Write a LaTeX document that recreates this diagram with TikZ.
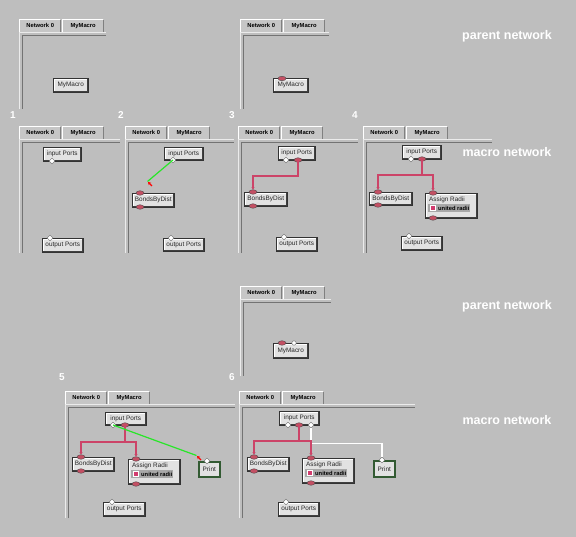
\documentclass[tikz,border=0pt]{standalone}
\usepackage{fontspec}
\setmainfont{Liberation Sans}
\usetikzlibrary{shapes.geometric,arrows.meta}
\definecolor{bg}{RGB}{190,190,190}
\definecolor{tabfill}{RGB}{198,198,198}
\definecolor{nodefill}{RGB}{226,226,226}
\definecolor{wirered}{RGB}{204,68,104}
\definecolor{portred}{RGB}{196,80,100}
\definecolor{wiregreen}{RGB}{40,230,40}
\definecolor{printgreen}{RGB}{50,90,50}
\definecolor{widgetgray}{RGB}{168,168,168}
\definecolor{checkpink}{RGB}{210,60,110}
\tikzset{
  uinode/.style={rectangle, draw=black!80, line width=0.5pt, fill=nodefill, inner sep=0pt,
    anchor=north west, text=black!85, font=\fontsize{6.4}{7}\selectfont,
    path picture={
      \draw[white, line width=1pt] ([shift={(1pt,1.5pt)}]path picture bounding box.south west) |- ([shift={(-1.5pt,-1pt)}]path picture bounding box.north east);
      \draw[black!75, line width=1.6pt] ([shift={(1pt,0pt)}]path picture bounding box.south west) -| ([shift={(0pt,-1pt)}]path picture bounding box.north east);
    }},
  printnode/.style={uinode, draw=printgreen, line width=1.6pt},
  tabbox/.style={rectangle, fill=tabfill, inner sep=0pt, anchor=north west,
    minimum width=42pt, minimum height=13pt, text=black,
    font=\bfseries\fontsize{5.8}{7}\selectfont,
    path picture={
      \draw[white, line width=1pt] ([shift={(0.5pt,0pt)}]path picture bounding box.south west) |- ([shift={(-1pt,-0.5pt)}]path picture bounding box.north east);
      \draw[black!50, line width=1pt] ([shift={(-0.5pt,-1pt)}]path picture bounding box.north east) -- ([shift={(-0.5pt,0pt)}]path picture bounding box.south east);
    }},
  framelight/.style={draw=white!92!black, line width=1pt},
  framedark/.style={draw=black!55, line width=0.8pt},
  oval/.style={ellipse, minimum width=8pt, minimum height=4.5pt, inner sep=0pt, fill=portred, draw=black!70, line width=0.4pt},
  pdiamond/.style={diamond, minimum width=6pt, minimum height=6pt, inner sep=0pt, fill=white, draw=black!60, line width=0.4pt},
  pcircle/.style={circle, minimum size=4.5pt, inner sep=0pt, fill=white, draw=black!60, line width=0.4pt},
  redwire/.style={draw=wirered, line width=1.2pt, -{Stealth[length=2.5pt,width=3.2pt]}},
  whitewire/.style={draw=white, line width=1.1pt},
  greenwire/.style={draw=wiregreen, line width=1.2pt},
  cursor/.style={draw=red, line width=1.2pt, -{Stealth[length=3pt,width=3.5pt]}},
  plaintext/.style={inner sep=0pt, text=black!85, font=\fontsize{6.4}{7}\selectfont},
  boldtext/.style={inner sep=0pt, text=black, font=\bfseries\fontsize{5.8}{7}\selectfont},
  widgetbox/.style={rectangle, fill=widgetgray, inner sep=0pt, anchor=north west, minimum width=42pt, minimum height=8pt},
  checkbox/.style={rectangle, fill=checkpink, draw=white, line width=0.6pt, minimum size=5pt, inner sep=0pt},
  bigtext/.style={inner sep=0pt, text=white, font=\bfseries\fontsize{12.5}{14}\selectfont},
  numtext/.style={inner sep=0pt, text=white, font=\bfseries\fontsize{10}{12}\selectfont}
}
\newcommand{\uipanel}[5]{%
  \draw[framelight] (#2+0.5,#5) -- (#2+0.5,#3+14) -- (#4,#3+14);
  \draw[framedark] (#2+3,#5) -- (#2+3,#3+16.5) -- (#4,#3+16.5);
  \node[tabbox] (#1net) at (#2,#3) {Network 0};
  \node[tabbox] (#1mac) at (#2+43,#3) {MyMacro};
}
\newcommand{\assignbox}[3]{%
  \node[uinode, minimum width=52pt, minimum height=25pt] (#1) at (#2,#3) {};
  \node[plaintext, anchor=west] (#1title) at (#2+4,#3+7) {Assign Radii};
  \node[widgetbox] (#1widget) at (#2+3,#3+11) {};
  \node[checkbox] (#1check) at (#2+8,#3+15) {};
  \node[boldtext, anchor=west] (#1label) at (#2+13,#3+15) {united radii};
}
\begin{document}
\begin{tikzpicture}[x=1pt,y=-1pt]
\fill[bg] (0,0) rectangle (576,537);
\useasboundingbox (0,0) rectangle (576,537);

% ---------- top-left parent network
\uipanel{pA}{19}{19}{106}{109}
\node[uinode, minimum width=35pt, minimum height=14pt] (mmA) at (53,78) {MyMacro};

% ---------- top-right parent network
\uipanel{pB}{240}{19}{329}{109}
\node[uinode, minimum width=35pt, minimum height=14pt] (mmB) at (273,78) {MyMacro};
\node[oval] (mmBo) at (282,78.5) {};
\node[bigtext] (labA) at (507,36) {parent network};

% ---------- panel 1
\node[numtext] (n1) at (13,115) {1};
\uipanel{p1}{19}{126}{120}{253}
\node[uinode, minimum width=38pt, minimum height=14pt] (in1) at (43,147) {input Ports};
\node[pdiamond] (in1d) at (52,161) {};
\node[uinode, minimum width=41pt, minimum height=14pt] (out1) at (42,238) {output Ports};
\node[pdiamond] (out1d) at (50,238) {};

% ---------- panel 2
\node[numtext] (n2) at (121,115) {2};
\uipanel{p2}{125}{126}{234}{253}
\node[uinode, minimum width=39pt, minimum height=13pt] (in2) at (164,147) {input Ports};
\node[pdiamond] (in2d) at (173,160) {};
\node[uinode, minimum width=42pt, minimum height=14pt] (bd2) at (132,193) {BondsByDist};
\node[oval] (bd2ot) at (140,193) {};
\node[oval] (bd2ob) at (140,207) {};
\node[uinode, minimum width=41pt, minimum height=13pt] (out2) at (163,238) {output Ports};
\node[pdiamond] (out2d) at (171,238) {};
\coordinate (g2end) at (147.5,181.5);
\draw[greenwire] (in2d.center) -- (g2end);
\draw[cursor] (152,186) -- (148,182);

% ---------- panel 3
\node[numtext] (n3) at (232,115) {3};
\uipanel{p3}{238}{126}{358}{253}
\node[uinode, minimum width=37pt, minimum height=14pt] (in3) at (278,146) {input Ports};
\node[pdiamond] (in3d) at (286,160) {};
\node[oval] (in3o) at (298,160) {};
\node[uinode, minimum width=43pt, minimum height=14pt] (bd3) at (244,192) {BondsByDist};
\node[oval] (bd3ot) at (253,192) {};
\node[oval] (bd3ob) at (253,206) {};
\node[uinode, minimum width=41pt, minimum height=14pt] (out3) at (276,237) {output Ports};
\node[pdiamond] (out3d) at (284,237) {};
\draw[redwire] (in3o.center) -- ++(0,16) -| (bd3ot.north);

% ---------- panel 4
\node[numtext] (n4) at (355,115) {4};
\uipanel{p4}{363}{126}{492}{253}
\node[uinode, minimum width=39pt, minimum height=14pt] (in4) at (402,145) {input Ports};
\node[pdiamond] (in4d) at (411,159) {};
\node[oval] (in4o) at (422,159) {};
\node[uinode, minimum width=43pt, minimum height=13pt] (bd4) at (369,192) {BondsByDist};
\node[oval] (bd4ot) at (378,192) {};
\node[oval] (bd4ob) at (378,205) {};
\assignbox{ar4}{425}{193}
\node[oval] (ar4ot) at (433,193) {};
\node[oval] (ar4ob) at (433,218) {};
\node[uinode, minimum width=41pt, minimum height=14pt] (out4) at (401,236) {output Ports};
\node[pdiamond] (out4d) at (409,236) {};
\draw[redwire] (in4o.center) -- ++(0,16) -| (bd4ot.north);
\draw[redwire] (in4o.center) -- ++(0,16) -| (ar4ot.north);
\node[bigtext] (labB) at (507,152) {macro network};

% ---------- bottom parent network
\uipanel{pC}{240}{286}{331}{376}
\node[uinode, minimum width=35pt, minimum height=15pt] (mmC) at (273,343) {MyMacro};
\node[oval] (mmCo) at (282,343) {};
\node[pcircle] (mmCc) at (294,343) {};
\node[bigtext] (labC) at (507,306) {parent network};

% ---------- panel 5
\node[numtext] (n5) at (62,377) {5};
\uipanel{p5}{65}{391}{235}{518}
\node[uinode, minimum width=41pt, minimum height=13pt] (in5) at (105,412) {input Ports};
\node[pdiamond] (in5d) at (113,425) {};
\node[oval] (in5o) at (125,425) {};
\node[uinode, minimum width=42pt, minimum height=14pt] (bd5) at (72,457) {BondsByDist};
\node[oval] (bd5ot) at (81,457) {};
\node[oval] (bd5ob) at (81,471) {};
\assignbox{ar5}{128}{459}
\node[oval] (ar5ot) at (136,459) {};
\node[oval] (ar5ob) at (136,484) {};
\node[printnode, minimum width=21pt, minimum height=15pt] (pr5) at (198,461) {Print};
\node[pdiamond] (pr5d) at (207,461) {};
\node[uinode, minimum width=42pt, minimum height=14pt] (out5) at (103,502) {output Ports};
\node[pdiamond] (out5d) at (112,502) {};
\draw[redwire] (in5o.center) -- ++(0,17) -| (bd5ot.north);
\draw[redwire] (in5o.center) -- ++(0,17) -| (ar5ot.north);
\coordinate (g5end) at (196.5,455.5);
\draw[greenwire] (in5d.center) -- (g5end);
\draw[cursor] (201,460) -- (197,456);

% ---------- panel 6
\node[numtext] (n6) at (232,377) {6};
\uipanel{p6}{239}{391}{415}{518}
\node[uinode, minimum width=40pt, minimum height=14pt] (in6) at (279,411) {input Ports};
\node[pdiamond] (in6d) at (288,425) {};
\node[pdiamond] (in6e) at (311,425) {};
\node[oval] (in6o) at (299,425) {};
\node[uinode, minimum width=42pt, minimum height=14pt] (bd6) at (247,457) {BondsByDist};
\node[oval] (bd6ot) at (254,457) {};
\node[oval] (bd6ob) at (254,471) {};
\assignbox{ar6}{302}{458}
\node[oval] (ar6ot) at (311,458) {};
\node[oval] (ar6ob) at (311,483) {};
\node[printnode, minimum width=21pt, minimum height=16pt] (pr6) at (373,460) {Print};
\node[pdiamond] (pr6d) at (382,460) {};
\node[uinode, minimum width=41pt, minimum height=14pt] (out6) at (278,502) {output Ports};
\node[pdiamond] (out6d) at (286,502) {};
\draw[whitewire] (in6e.south) -- ++(0,15) -| (pr6d.north);
\draw[redwire] (in6o.center) -- ++(0,16) -| (bd6ot.north);
\draw[redwire] (in6o.center) -- ++(0,16) -| (ar6ot.north);
\node[bigtext] (labD) at (507,420) {macro network};
\end{tikzpicture}
\end{document}
